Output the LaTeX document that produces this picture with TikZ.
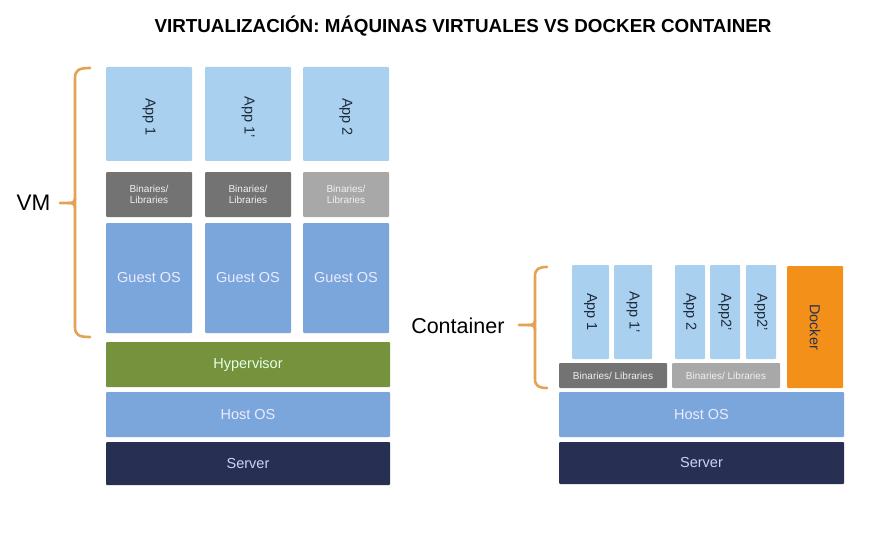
\documentclass[tikz,border=0pt]{standalone}
\usepackage{fontspec}
\setmainfont{Liberation Sans}
\definecolor{appblue}{HTML}{AAD0F0}
\definecolor{osblue}{HTML}{7BA6DC}
\definecolor{bindark}{HTML}{737373}
\definecolor{binlight}{HTML}{A8A8A8}
\definecolor{hypgreen}{HTML}{76923C}
\definecolor{servnavy}{HTML}{273052}
\definecolor{dockorange}{HTML}{F39019}
\definecolor{bracecol}{HTML}{E3A355}
\definecolor{apptext}{HTML}{1E2B3A}
\begin{document}
\begin{tikzpicture}[x=1pt,y=-1pt,
  box/.style={draw=none,inner sep=0pt,outer sep=0pt,anchor=north west,rounded corners=1pt,align=center},
  app/.style={box,fill=appblue,text=apptext,font=\fontsize{14}{16}\selectfont},
  apptxt/.style={rotate=-90,text=apptext,font=\fontsize{14.5}{16}\selectfont,inner sep=0pt},
  bins/.style={box,text=white!88!gray,font=\fontsize{10}{11.5}\selectfont},
  os/.style={box,fill=osblue,text=white!92!blue,font=\fontsize{14.5}{16}\selectfont},
  brace/.style={draw=bracecol,line width=2.6pt,line cap=round,line join=round}]
\useasboundingbox (0,0) rectangle (890,548);
\fill[white] (0,0) rectangle (890,548);
\node[font=\bfseries\fontsize{18.8}{22}\selectfont] (title) at (463,26) {VIRTUALIZACIÓN: MÁQUINAS VIRTUALES VS DOCKER CONTAINER};
% ---- VM stack ----
\node[app,minimum width=86,minimum height=94] (a1) at (106,67) {};
\node[app,minimum width=86,minimum height=94] (a2) at (205,67) {};
\node[app,minimum width=86,minimum height=94] (a3) at (303,67) {};
\node[apptxt] (a1t) at ([yshift=-50pt]a1.north) {App 1};
\node[apptxt] (a2t) at ([yshift=-50pt]a2.north) {App 1'};
\node[apptxt] (a3t) at ([yshift=-50pt]a3.north) {App 2};
\node[bins,fill=bindark,minimum width=86,minimum height=45] (b1) at (106,172) {Binaries/\\Libraries};
\node[bins,fill=bindark,minimum width=86,minimum height=45] (b2) at (205,172) {Binaries/\\Libraries};
\node[bins,fill=binlight,minimum width=86,minimum height=45] (b3) at (303,172) {Binaries/\\Libraries};
\node[os,minimum width=86,minimum height=110] (g1) at (106,223) {Guest OS};
\node[os,minimum width=86,minimum height=110] (g2) at (205,223) {Guest OS};
\node[os,minimum width=86,minimum height=110] (g3) at (303,223) {Guest OS};
\node[box,fill=hypgreen,text=white!90!green,font=\fontsize{14.5}{16}\selectfont,minimum width=284,minimum height=45] (hyp) at (106,342) {Hypervisor};
\node[os,minimum width=284,minimum height=45] (host1) at (106,392) {Host OS};
\node[box,fill=servnavy,text=white!82!blue,font=\fontsize{14.5}{16}\selectfont,minimum width=284,minimum height=43] (serv1) at (106,442) {Server};
% VM brace
\draw[brace] (90,68) .. controls (79,68) and (75,70) .. (75,78) -- (75,327) .. controls (75,335) and (79,337) .. (90,337);
\draw[brace] (60,203) -- (68,203) .. controls (73,203) and (75,202) .. (75,198);
\draw[brace] (68,203) .. controls (73,203) and (75,204) .. (75,208);
\node[font=\fontsize{22.5}{24}\selectfont,anchor=east] (vm) at (54,203) {VM};
% ---- Container stack ----
\node[app,minimum width=37,minimum height=94] (c1) at (572,265) {};
\node[app,minimum width=38,minimum height=94] (c2) at (614,265) {};
\node[app,minimum width=30,minimum height=94] (c3) at (675,265) {};
\node[app,minimum width=30,minimum height=94] (c4) at (710,265) {};
\node[app,minimum width=30,minimum height=94] (c5) at (746,265) {};
\node[apptxt] (c1t) at ([yshift=-47pt]c1.north) {App 1};
\node[apptxt] (c2t) at ([yshift=-47pt]c2.north) {App 1'};
\node[apptxt] (c3t) at ([yshift=-47pt]c3.north) {App 2};
\node[apptxt] (c4t) at ([yshift=-47pt]c4.north) {App2'};
\node[apptxt] (c5t) at ([yshift=-47pt]c5.north) {App2'};
\node[box,fill=dockorange,minimum width=56,minimum height=122] (dock) at (787,266) {};
\node[apptxt,text=servnavy] (dockt) at ([yshift=-61pt]dock.north) {Docker};
\node[bins,fill=bindark,minimum width=108,minimum height=25] (cb1) at (559,363) {Binaries/ Libraries};
\node[bins,fill=binlight,minimum width=108,minimum height=25] (cb2) at (672,363) {Binaries/ Libraries};
\node[os,minimum width=285,minimum height=45] (host2) at (559,392) {Host OS};
\node[box,fill=servnavy,text=white!82!blue,font=\fontsize{14.5}{16}\selectfont,minimum width=285,minimum height=42] (serv2) at (559,442) {Server};
% Container brace
\draw[brace] (547,267) .. controls (539,267) and (535,269) .. (535,276) -- (535,379) .. controls (535,386) and (539,388) .. (547,388);
\draw[brace] (519,325) -- (528,325) .. controls (533,325) and (535,324) .. (535,320);
\draw[brace] (528,325) .. controls (533,325) and (535,326) .. (535,330);
\node[font=\fontsize{21.5}{24}\selectfont,anchor=east] (cont) at (508,326) {Container};
\end{tikzpicture}
\end{document}
